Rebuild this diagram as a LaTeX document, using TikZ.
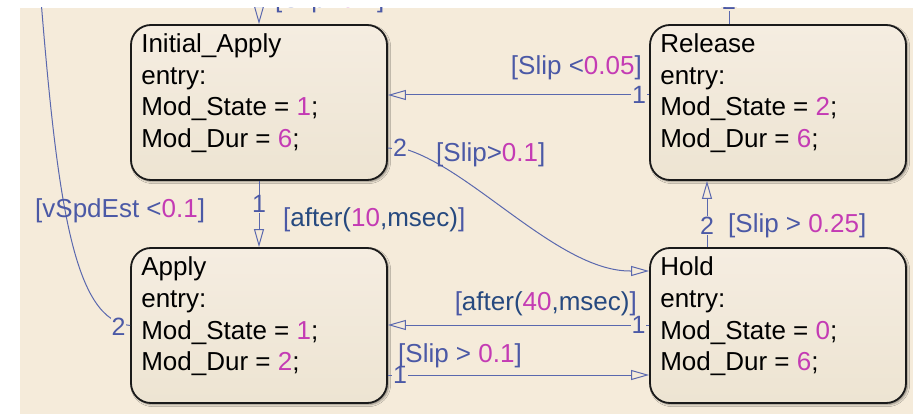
\documentclass[tikz,border=0pt]{standalone}
\usepackage{fontspec}
\setmainfont{Liberation Sans}
\usetikzlibrary{arrows.meta,shadows.blur}

\definecolor{sfbg}{HTML}{F5EBDA}
\definecolor{sftop}{HTML}{F5EDE1}
\definecolor{sfbot}{HTML}{EDE4D2}
\definecolor{sfedge}{HTML}{1A1A1A}
\definecolor{sfline}{HTML}{5A68AE}
\definecolor{sflabel}{HTML}{4B59A6}
\definecolor{sfdark}{HTML}{26497F}
\definecolor{sfnum}{HTML}{C43BB4}

% state body text: four lines, baseline of the first line is the node's base
\newcommand\boxlines[4]{\vtop{\hbox{#1}\hbox{#2}\hbox{#3}\hbox{#4}}}
\newcommand\nm[1]{\textcolor{sfnum}{#1}}
\newcommand\kw[1]{\textcolor{sfdark}{#1}}

\tikzset{
  state/.style={draw=sfedge, line width=1.8pt, rounded corners=20pt,
    minimum width=256pt, minimum height=155pt, inner sep=0pt,
    top color=sftop, bottom color=sfbot,
    blur shadow={shadow xshift=1.6pt, shadow yshift=-1.6pt,
      shadow blur radius=2pt, shadow opacity=45}},
  statetext/.style={anchor=base west, inner sep=0pt, text=black,
    font=\fontsize{26}{31.7}\selectfont},
  conn/.style={draw=sfline, line width=1pt,
    -{Triangle[open, length=18pt, width=10pt]}},
  connplain/.style={draw=sfline, line width=1pt},
  ordnum/.style={fill=sfbg, inner sep=0.6pt, text=sflabel,
    font=\fontsize{25}{25}\selectfont},
  guard/.style={inner sep=0pt, text=sflabel,
    font=\fontsize{26}{26}\selectfont},
}

\begin{document}
\begin{tikzpicture}[x=1pt, y=-1pt]
  \fill[white] (0,0) rectangle (913,414);
  \useasboundingbox (0,0) rectangle (913,414);
  \begin{scope}
    \clip (20,8) rectangle (913,414);
    \fill[sfbg] (20,8) rectangle (913,414);

    % states
    \node[state] (ia)   at (259,102.5) {};
    \node[state] (rel)  at (778,102.5) {};
    \node[state] (app)  at (259,325.5) {};
    \node[state] (hold) at (778,325.5) {};

    \node[statetext] (iatxt) at ([shift={(11,28.5)}]ia.north west)
      {\boxlines{Initial\_Apply}{entry:}{Mod\_State = \nm{1};}{Mod\_Dur = \nm{6};}};
    \node[statetext] (reltxt) at ([shift={(11,28.5)}]rel.north west)
      {\boxlines{Release}{entry:}{Mod\_State = \nm{2};}{Mod\_Dur = \nm{6};}};
    \node[statetext] (apptxt) at ([shift={(11,28.5)}]app.north west)
      {\boxlines{Apply}{entry:}{Mod\_State = \nm{1};}{Mod\_Dur = \nm{2};}};
    \node[statetext] (holdtxt) at ([shift={(11,28.5)}]hold.north west)
      {\boxlines{Hold}{entry:}{Mod\_State = \nm{0};}{Mod\_Dur = \nm{6};}};

    % free ends leaving the visible area
    \coordinate (iain)   at (259,-12);
    \coordinate (relout) at (729,-12);
    \coordinate (vout)   at (40,-12);

    % transitions
    \draw[conn] (iain) -- (ia.north);
    \draw[connplain] (rel.north -| 729,0) -- (relout);
    \draw[conn] (rel.west |- 0,95) -- (ia.east |- 0,95);
    \draw[conn] (ia.east |- 0,148) -- (408,150)
      .. controls (475,172) and (560,271) .. (630,271) -- (hold.west |- 0,271);
    \draw[conn] (ia.south) -- (app.north);
    \draw[conn] (hold.north -| 707,0) -- (rel.south -| 707,0);
    \draw[conn] (hold.west |- 0,325) -- (app.east |- 0,325);
    \draw[conn] (app.east |- 0,375) -- (hold.west |- 0,375);
    \draw[connplain] (app.west) .. controls (75,320) and (58,210) .. (41,0) -- (vout);

    % execution order numbers
    \node[ordnum, anchor=base] (o1) at (729,10) {2};
    \node[ordnum] (o2) at (639,95) {1};
    \node[ordnum] (o3) at (400,147.5) {2};
    \node[ordnum] (o4) at (259,204) {1};
    \node[ordnum] (o5) at (707,225.5) {2};
    \node[ordnum] (o6) at (638.5,325) {1};
    \node[ordnum] (o7) at (400,375) {1};
    \node[ordnum] (o8) at (118.5,326.5) {2};

    % guards
    \node[guard, anchor=base west] (g1) at (275,8) {[Slip<\nm{0.1}]};
    \node[guard, anchor=base east] (g2) at (642,75) {[Slip <\nm{0.05}]};
    \node[guard, anchor=base west] (g3) at (436,161.5) {[Slip>\nm{0.1}]};
    \node[guard, anchor=base west] (g4) at (283,226.5) {[\kw{after(}\nm{10}\kw{,msec)}]};
    \node[guard, anchor=base west] (g5) at (728,233) {[Slip > \nm{0.25}]};
    \node[guard, anchor=base east] (g6) at (637,310) {[\kw{after(}\nm{40}\kw{,msec)}]};
    \node[guard, anchor=base west] (g7) at (398,362) {[Slip > \nm{0.1}]};
    \node[guard, anchor=base west] (g8) at (35,218) {[vSpdEst <\nm{0.1}]};
  \end{scope}
\end{tikzpicture}
\end{document}
